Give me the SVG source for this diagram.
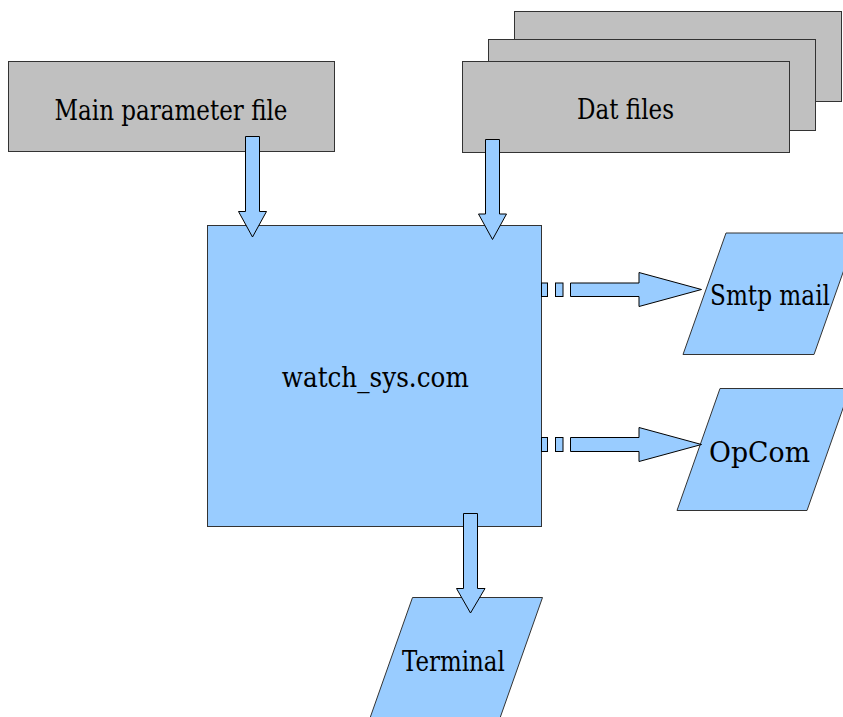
<svg xmlns="http://www.w3.org/2000/svg" width="843" height="717" viewBox="0 0 843 717">
<style>
.grey{fill:#c0c0c0;stroke:#333333;stroke-width:1}
.blue{fill:#99ccff;stroke:#333333;stroke-width:1}
.arr{fill:#99ccff;stroke:#000000;stroke-width:1;stroke-linejoin:miter}
.lbl{font-family:'DejaVu Serif',serif;font-size:27px;fill:#000000;text-anchor:middle}
</style>
<rect width="843" height="717" fill="#ffffff"/>
<g id="main-param">
<rect class="grey" x="8.5" y="61.5" width="326" height="90"/>
<text class="lbl" x="171" y="120" textLength="233" lengthAdjust="spacingAndGlyphs">Main parameter file</text>
</g>
<g id="dat-files">
<rect class="grey" x="514.5" y="11.5" width="327" height="90"/>
<rect class="grey" x="488.5" y="39.5" width="327" height="91"/>
<rect class="grey" x="462.5" y="61.5" width="327" height="91"/>
<text class="lbl" x="625.5" y="119" textLength="97" lengthAdjust="spacingAndGlyphs">Dat files</text>
</g>
<g id="watch-sys">
<rect class="blue" x="207.5" y="225.5" width="334" height="301"/>
<text class="lbl" x="375.3" y="387" textLength="187" lengthAdjust="spacingAndGlyphs">watch_sys.com</text>
</g>
<g id="smtp-mail">
<polygon class="blue" points="726,233 857,233 814,354.5 683,354.5"/>
<text class="lbl" x="770" y="305" textLength="120" lengthAdjust="spacingAndGlyphs">Smtp mail</text>
</g>
<g id="opcom">
<polygon class="blue" points="720,388.5 850,388.5 807,510.5 677,510.5"/>
<text class="lbl" x="759.5" y="461.5" textLength="101" lengthAdjust="spacingAndGlyphs">OpCom</text>
</g>
<g id="terminal">
<polygon class="blue" points="412.5,597.5 542.5,597.5 500,718 370,718"/>
<text class="lbl" x="453.4" y="670.5" textLength="103" lengthAdjust="spacingAndGlyphs">Terminal</text>
</g>
<g id="connectors">
<polygon class="arr" points="245.5,136.5 259.5,136.5 259.5,211.5 266.5,211.5 252.5,237 238.5,211.5 245.5,211.5"/>
<polygon class="arr" points="485.5,139.5 499.5,139.5 499.5,214 506.5,214 492.5,239.5 478.5,214 485.5,214"/>
<polygon class="arr" points="463.5,513.5 477.5,513.5 477.5,588.5 485,588.5 470.5,613 456.5,588.5 463.5,588.5"/>
<rect class="arr" x="541.5" y="283" width="6" height="13.5"/>
<rect class="arr" x="555.5" y="283" width="7.5" height="13.5"/>
<polygon class="arr" points="570.5,283 639,283 639,272.5 701.5,289.5 639,306.5 639,296.5 570.5,296.5"/>
<rect class="arr" x="541.5" y="437.5" width="6" height="14"/>
<rect class="arr" x="555.5" y="437.5" width="7.5" height="14"/>
<polygon class="arr" points="570.5,437.5 639,437.5 639,427.5 701.5,444.5 639,461.5 639,451.5 570.5,451.5"/>
</g>
</svg>
